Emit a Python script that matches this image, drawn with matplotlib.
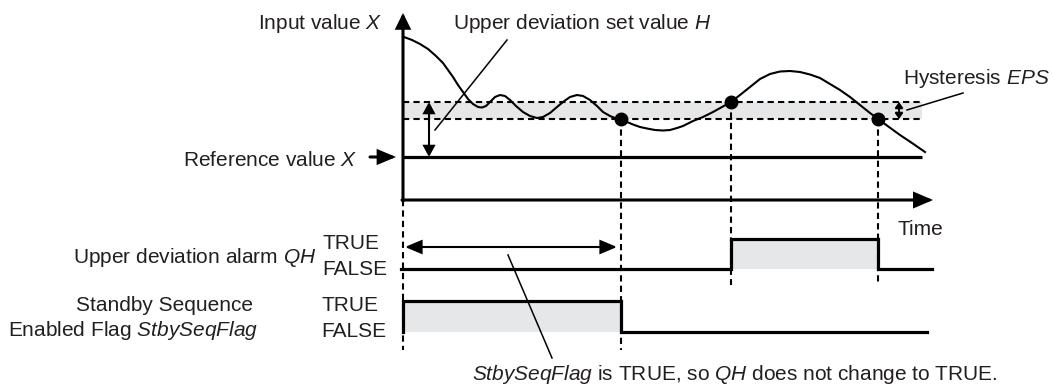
import numpy as np
import matplotlib
matplotlib.use("Agg")
import matplotlib.pyplot as plt

# fonts: Arial-like with italic math symbols
plt.rcParams["font.family"] = ["Liberation Sans", "DejaVu Sans"]
plt.rcParams["mathtext.fontset"] = "custom"
plt.rcParams["mathtext.rm"] = "Liberation Sans"
plt.rcParams["mathtext.it"] = "Liberation Sans:italic"
plt.rcParams["font.size"] = 15

TXT = "#231f20"
GRAY = "#e6e7e8"

# diagram units: t = time from origin, v = value above time axis
curve_t = [0, 1, 9, 17, 25, 33, 40, 45, 50, 55, 60, 65, 70, 75, 79, 83, 87, 92, 97, 102,
           107, 113, 120, 127, 134, 140, 147, 154, 160, 167, 174, 180, 187, 194, 200,
           207, 212, 218, 224, 230, 237, 244, 252, 260, 267, 274, 280, 290, 300, 310,
           319, 328, 337, 347, 357, 367, 377, 387, 397, 407, 417, 427, 437, 447, 457,
           467, 475, 486, 497, 509, 522]
curve_v = [163, 163, 160, 156, 151, 144, 137, 130, 123, 115, 108, 101, 96, 93, 92.5, 94,
           98, 103, 105, 104, 100, 94, 88, 84, 82, 83, 87, 93, 98, 103, 105, 104, 100,
           94, 88, 84, 82, 81, 78, 75.5, 73, 71.5, 70, 69.5, 70, 72, 74, 79, 83, 88,
           93, 98, 105, 113, 121, 126, 128.5, 129, 128, 125.5, 122, 116, 110, 103, 95,
           87, 81, 73, 65, 57, 48]

reference_x = 43
upper_on = 98      # reference + H
upper_off = 81     # reference + H - EPS
band_end = 519

event_t = [218, 328, 475]
event_v = [81, 98, 81]

time_end = 530
value_top = 187

# timing rows
qh_t = [-2, 328, 328, 475, 475, 529]
qh_v = [-69, -69, -39, -39, -69, -69]
qh_true, qh_false = -39, -69
stby_t = [0, 0, 218, 218, 524]
stby_v = [-132, -101, -101, -132, -132]
stby_true, stby_false = -101, -132

fig = plt.figure(figsize=(10.53, 3.85), dpi=100)
ax = fig.add_axes([0, 0, 1, 1])
ax.set_xlim(-403, 650)
ax.set_ylim(-185, 200)
ax.axis("off")


def arrow(p_from, p_to, style, lw, hl, hw):
    ax.annotate("", xy=p_to, xytext=p_from,
                arrowprops=dict(arrowstyle=f"{style},head_length={hl},head_width={hw}",
                                lw=lw, color="k", shrinkA=0, shrinkB=0,
                                mutation_scale=10, joinstyle="miter"))


dash = dict(color="k", lw=1.5, dashes=(3.0, 2.0))

# hysteresis band
ax.fill_between([0, band_end], upper_off, upper_on, color=GRAY, lw=0, zorder=0)
ax.plot([0, band_end], [upper_on, upper_on], **dash)
ax.plot([0, band_end], [upper_off, upper_off], **dash)

# vertical event lines
ax.plot([0, 0], [0, -150], **dash)
ax.plot([event_t[0]] * 2, [event_v[0], -150], **dash)
ax.plot([event_t[1]] * 2, [event_v[1], -85], **dash)
ax.plot([event_t[2]] * 2, [event_v[2], -82], **dash)

# reference line and curve
ax.plot([0, band_end], [reference_x, reference_x], color="k", lw=2.3, solid_capstyle="butt")
ax.plot(curve_t, curve_v, color="k", lw=1.5, solid_joinstyle="round")
ax.plot(event_t, event_v, "o", color="k", ms=9)

# axes arrows
arrow((0, -1), (0, value_top), "-|>", 2.2, 0.85, 0.42)
arrow((-1, 0), (time_end, 0), "-|>", 2.2, 1.05, 0.45)

# H and EPS double arrows
arrow((26, reference_x), (26, upper_on), "<|-|>", 1.5, 0.65, 0.35)
arrow((496, upper_off), (496, upper_on), "<|-|>", 1.3, 0.35, 0.25)
# reference value pointer
arrow((-33, reference_x), (-7, reference_x), "-|>", 2.2, 1.0, 0.42)

# pointer lines
ax.plot([104, 32], [160, 70], color="k", lw=1.1)
ax.plot([560, 504], [107, 90], color="k", lw=1.1)
ax.plot([105, 149], [-55, -158], color="k", lw=1.1)

# timing diagrams
ax.fill_between([qh_t[2], qh_t[3]], qh_false, qh_true, color=GRAY, lw=0, zorder=0)
ax.plot(qh_t, qh_v, color="k", lw=2.3, solid_joinstyle="miter")
ax.fill_between([stby_t[1], stby_t[2]], stby_false, stby_true, color=GRAY, lw=0, zorder=0)
ax.plot(stby_t, stby_v, color="k", lw=2.3, solid_joinstyle="miter")
arrow((110, -47), (2, -47), "-|>", 1.5, 1.0, 0.42)
arrow((110, -47), (214, -47), "-|>", 1.5, 1.0, 0.42)

# texts
kw = dict(color=TXT, va="baseline")
ax.text(-20, 171, "Input value $X$", ha="right", **kw)
ax.text(50, 171, "Upper deviation set value $H$", ha="left", **kw)
ax.text(500, 116, "Hysteresis $EPS$", ha="left", **kw)
ax.text(-46, 34, "Reference value $X$", ha="right", **kw)
ax.text(494, -35, "Time", ha="left", **kw)
ax.text(-87, -63, "Upper deviation alarm $QH$", ha="right", **kw)
ax.text(-81, -49, "TRUE", ha="left", **kw)
ax.text(-81, -75, "FALSE", ha="left", **kw)
ax.text(-239, -111, "Standby Sequence", ha="center", **kw)
ax.text(-395, -136, "Enabled Flag $StbySeqFlag$", ha="left", **kw)
ax.text(-82, -111, "TRUE", ha="left", **kw)
ax.text(-82, -137, "FALSE", ha="left", **kw)
ax.text(69, -180, "$StbySeqFlag$ is TRUE, so $QH$ does not change to TRUE.", ha="left", **kw)

fig.savefig("out.png", dpi=100)
